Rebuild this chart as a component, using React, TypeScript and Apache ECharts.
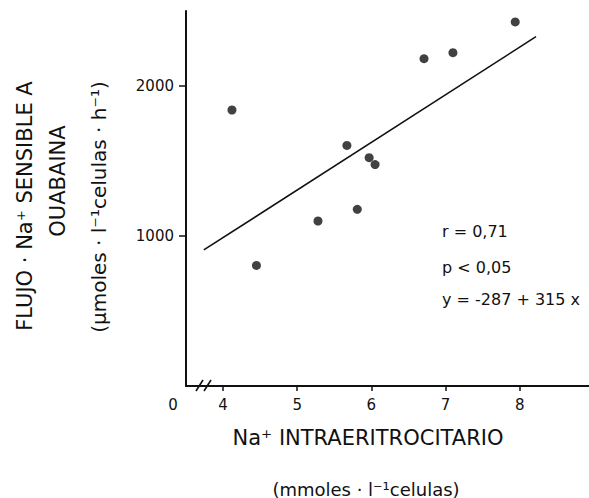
import React, { useEffect, useRef } from 'react';
import * as echarts from 'echarts';

// Data
const naIntra = [4.12, 4.45, 5.28, 5.67, 5.81, 5.97, 6.05, 6.71, 7.1, 7.94];
const flujo = [1840, 804, 1100, 1604, 1178, 1522, 1476, 2182, 2222, 2427];
const fitX = [3.74, 8.22];
const fitY = [907, 2329];
const xTicks = [4, 5, 6, 7, 8];
const yTicks = [1000, 2000];
const statsLines = ['r = 0,71', 'p < 0,05', 'y = -287 + 315 x'];
const yTitleLines = ['FLUJO · Na⁺ SENSIBLE A', 'OUABAINA', '(μmoles · l⁻¹celulas · h⁻¹)'];
const xTitleLines = ['Na⁺ INTRAERITROCITARIO', '(mmoles · l⁻¹celulas)'];
const xOriginLabel = '0';

const FONT = '"DejaVu Sans", "Liberation Sans", sans-serif';
const INK = '#111';

export default function App() {
  const ref = useRef<HTMLDivElement>(null);
  useEffect(() => {
    if (!ref.current) return;
    const chart = echarts.init(ref.current, undefined, { renderer: 'svg' });
    const scatterData = naIntra.map((x, i) => [x, flujo[i]]);
    const fitData = fitX.map((x, i) => [x, fitY[i]]);
    const titleStyle = { fontSize: 21, fontFamily: FONT, fill: INK, align: 'center', verticalAlign: 'middle' };
    chart.setOption({
      animation: false,
      backgroundColor: '#fff',
      grid: { left: 186, right: 0, top: 11, bottom: 112 },
      xAxis: {
        type: 'value',
        min: 3.5,
        max: 8.935,
        axisLine: { show: true, lineStyle: { color: INK, width: 2 } },
        axisTick: { show: true, customValues: xTicks, length: 5, lineStyle: { color: INK, width: 1.5 } },
        axisLabel: { customValues: xTicks, margin: 11, fontSize: 15, fontFamily: FONT, color: INK, formatter: (v: number) => String(v) },
        splitLine: { show: false },
      },
      yAxis: {
        type: 'value',
        min: 0,
        max: 2500,
        axisLine: { show: true, lineStyle: { color: INK, width: 2 } },
        axisTick: { show: true, customValues: yTicks, length: 7, lineStyle: { color: INK, width: 1.5 } },
        axisLabel: { customValues: yTicks, margin: 12, fontSize: 15, fontFamily: FONT, color: INK, formatter: (v: number) => String(v) },
        splitLine: { show: false },
      },
      series: [
        {
          type: 'line',
          data: fitData,
          showSymbol: false,
          symbol: 'none',
          lineStyle: { color: INK, width: 1.6 },
          silent: true,
        },
        {
          type: 'scatter',
          data: scatterData,
          symbol: 'circle',
          symbolSize: 9,
          itemStyle: { color: INK },
        },
      ],
      graphic: [
        { type: 'text', x: 25, y: 206, rotation: Math.PI / 2, style: { ...titleStyle, text: yTitleLines[0] } },
        { type: 'text', x: 58, y: 181, rotation: Math.PI / 2, style: { ...titleStyle, text: yTitleLines[1] } },
        { type: 'text', x: 99, y: 207, rotation: Math.PI / 2, style: { ...titleStyle, fontSize: 20, text: yTitleLines[2] } },
        { type: 'text', x: 368, y: 438, style: { ...titleStyle, text: xTitleLines[0] } },
        { type: 'text', x: 366, y: 489, style: { ...titleStyle, fontSize: 18, text: xTitleLines[1] } },
        { type: 'text', x: 173, y: 405, style: { ...titleStyle, fontSize: 15, text: xOriginLabel } },
        ...statsLines.map((t, i) => ({
          type: 'text',
          x: 442,
          y: [231, 267, 299][i],
          style: { text: t, fontSize: 16, fontFamily: FONT, fill: INK, align: 'left', verticalAlign: 'middle' },
        })),
        { type: 'rect', shape: { x: 197, y: 383, width: 14, height: 6 }, style: { fill: '#fff' } },
        { type: 'line', shape: { x1: 196, y1: 391, x2: 203, y2: 380 }, style: { stroke: INK, lineWidth: 1.6 } },
        { type: 'line', shape: { x1: 204, y1: 391, x2: 211, y2: 380 }, style: { stroke: INK, lineWidth: 1.6 } },
      ],
    });
    return () => chart.dispose();
  }, []);
  return <div ref={ref} style={{ position: 'fixed', left: 0, top: 0, width: 589, height: 498 }} />;
}
